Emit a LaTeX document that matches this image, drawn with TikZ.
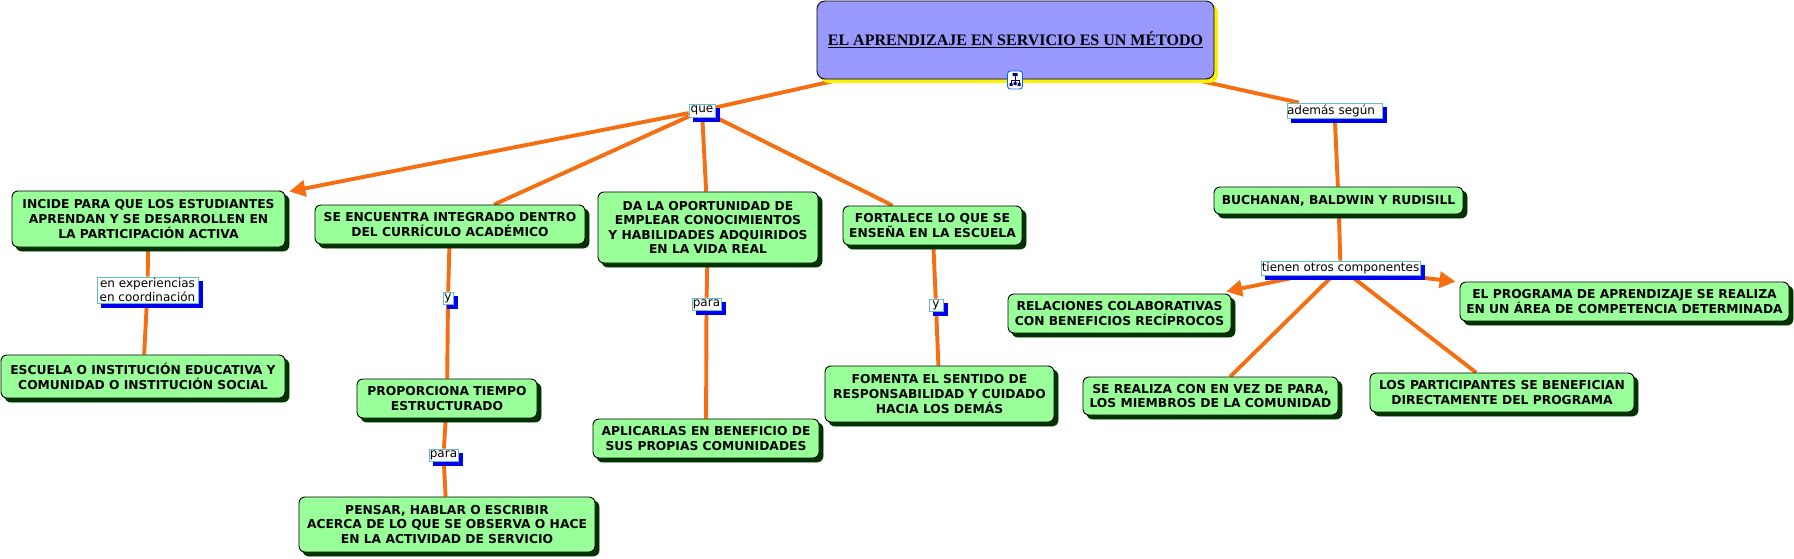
\documentclass[tikz,border=0pt]{standalone}
\usepackage{fontspec}
\setmainfont{DejaVu Sans}
\newfontfamily\rootfont{Liberation Serif}
\usetikzlibrary{shadows,arrows.meta,backgrounds}
\definecolor{nodegreen}{HTML}{99FF99}
\definecolor{shadegreen}{HTML}{003300}
\definecolor{rootblue}{HTML}{9999FF}
\definecolor{linkorange}{HTML}{F56E12}
\definecolor{labelblue}{HTML}{0000EE}
\definecolor{labelline}{HTML}{66BBCC}
\tikzset{
 x=1pt,y=-1pt,
 concept/.style={draw=black,line width=.9pt,fill=nodegreen,rounded corners=6pt,inner sep=0pt,
   align=center,font=\fontsize{12.3}{14.6}\selectfont\bfseries,
   copy shadow={shadow xshift=4pt,shadow yshift=-4pt,draw=shadegreen,fill=shadegreen}},
 linklabel/.style={draw=labelline,line width=.8pt,fill=white,inner sep=0pt,align=center,
   font=\fontsize{12}{14.6}\selectfont,
   copy shadow={shadow xshift=4pt,shadow yshift=-4pt,draw=labelblue,fill=labelblue}},
 link/.style={draw=linkorange,line width=3.9pt},
 arrowlink/.style={link,-{Triangle[length=16pt,width=16pt]},shorten >=4pt},
 iconpart/.style={fill=blue!40!black,draw=none},
}
\newcommand{\cbox}[6]{% name, x1,y1,x2,y2, text
 \node[concept,minimum width=#4-#2,minimum height=#5-#3] (#1) at ({(#2+#4)/2},{(#3+#5)/2}) {#6};}
\newcommand{\lbox}[6]{%
 \node[linklabel,minimum width=#4-#2,minimum height=#5-#3] (#1) at ({(#2+#4)/2},{(#3+#5)/2}) {#6};}
\begin{document}
\begin{tikzpicture}
\useasboundingbox (0,0) rectangle (1794,558);
\node[draw=black,line width=.9pt,fill=rootblue,rounded corners=8pt,minimum width=397,minimum height=78,inner sep=0pt,
  copy shadow={shadow xshift=3.5pt,shadow yshift=-3.5pt,draw=yellow,fill=yellow},
  font=\rootfont\fontsize{16}{18}\selectfont\bfseries] (root) at (1015.5,40) {\raisebox{1.5pt}{\underline{EL APRENDIZAJE EN SERVICIO ES UN MÉTODO}}};
\cbox{incide}{12}{191}{285}{247}{INCIDE PARA QUE LOS ESTUDIANTES\\APRENDAN Y SE DESARROLLEN EN\\LA PARTICIPACIÓN ACTIVA}
\cbox{escuela}{1}{355}{285}{398}{ESCUELA O INSTITUCIÓN EDUCATIVA Y\\COMUNIDAD O INSTITUCIÓN SOCIAL}
\cbox{encuentra}{315}{205}{585}{244}{SE ENCUENTRA INTEGRADO DENTRO\\DEL CURRÍCULO ACADÉMICO}
\cbox{proporciona}{357}{379}{537}{418}{PROPORCIONA TIEMPO\\ESTRUCTURADO}
\cbox{pensar}{299}{497}{595}{552}{PENSAR, HABLAR O ESCRIBIR\\ACERCA DE LO QUE  SE OBSERVA O HACE\\EN LA ACTIVIDAD DE SERVICIO}
\cbox{da}{598}{192}{818}{263}{DA LA OPORTUNIDAD DE\\EMPLEAR CONOCIMIENTOS\\Y HABILIDADES ADQUIRIDOS\\EN LA VIDA REAL}
\cbox{aplicarlas}{593}{419}{819}{458}{APLICARLAS EN BENEFICIO DE\\SUS PROPIAS COMUNIDADES}
\cbox{fortalece}{843}{206}{1022}{245}{FORTALECE LO QUE SE\\ENSEÑA EN LA ESCUELA}
\cbox{fomenta}{825}{366}{1054}{422}{FOMENTA EL SENTIDO DE\\RESPONSABILIDAD Y CUIDADO\\HACIA LOS DEMÁS}
\cbox{buchanan}{1214}{187}{1463}{214}{BUCHANAN, BALDWIN Y RUDISILL}
\cbox{relaciones}{1008}{294}{1231}{333}{RELACIONES COLABORATIVAS\\CON BENEFICIOS RECÍPROCOS}
\cbox{realiza}{1083}{377}{1338}{415}{SE REALIZA CON EN VEZ DE PARA,\\LOS MIEMBROS DE LA COMUNIDAD}
\cbox{participantes}{1370}{373}{1634}{412}{LOS PARTICIPANTES SE BENEFICIAN\\DIRECTAMENTE DEL PROGRAMA}
\cbox{programa}{1460}{282}{1789}{321}{EL PROGRAMA DE APRENDIZAJE SE REALIZA\\EN UN ÁREA DE COMPETENCIA DETERMINADA}
\lbox{que}{689}{104}{715}{117}{que}
\lbox{ademas}{1288}{103}{1381}{118}{además según\hspace{7pt}}
\lbox{exper}{97}{277}{198}{303}{en experiencias\\en coordinación}
\lbox{yuno}{443}{292}{453}{304}{y}
\lbox{parauno}{429}{449}{458}{461}{para}
\lbox{parados}{692}{298}{721}{310}{para}
\lbox{ydos}{929}{299}{943}{311}{y}
\lbox{tienen}{1261}{261}{1420}{275}{tienen otros componentes}
\node[draw=blue!60!cyan,line width=.9pt,fill=white,rounded corners=3pt,minimum width=15pt,minimum height=18pt,inner sep=0pt] (icon) at (1015,80) {};
\draw[blue!40!black,line width=.7pt] (1015,75)--(1015,83) (1011,80)--(1019,80) (1011,80)--(1011,84) (1019,80)--(1019,84);
\fill[iconpart] (1012.5,73) rectangle (1017.5,76) (1009.5,83) rectangle (1012.5,86) (1013.5,82) rectangle (1016.5,85) (1017.5,83) rectangle (1020.5,86);
\begin{scope}[on background layer]
\draw[link] (root) -- (que);
\draw[link] (root) -- (ademas);
\draw[arrowlink] (que) -- (incide);
\draw[link] (que) -- (encuentra);
\draw[link] (que) -- (da);
\draw[link] (que) -- (fortalece);
\draw[link] (ademas) -- (buchanan);
\draw[link] (buchanan) -- (tienen);
\draw[link] (incide) -- (exper);
\draw[link] (exper) -- (escuela);
\draw[link] (encuentra) -- (yuno);
\draw[link] (yuno) -- (proporciona);
\draw[link] (proporciona) -- (parauno);
\draw[link] (parauno) -- (pensar);
\draw[link] (da) -- (parados);
\draw[link] (parados) -- (aplicarlas);
\draw[link] (fortalece) -- (ydos);
\draw[link] (ydos) -- (fomenta);
\draw[arrowlink,shorten >=10pt] (tienen) -- (relaciones);
\draw[arrowlink] (tienen) -- (programa);
\draw[link] (tienen) -- (realiza);
\draw[link] (tienen) -- (participantes);
\end{scope}
\end{tikzpicture}
\end{document}
